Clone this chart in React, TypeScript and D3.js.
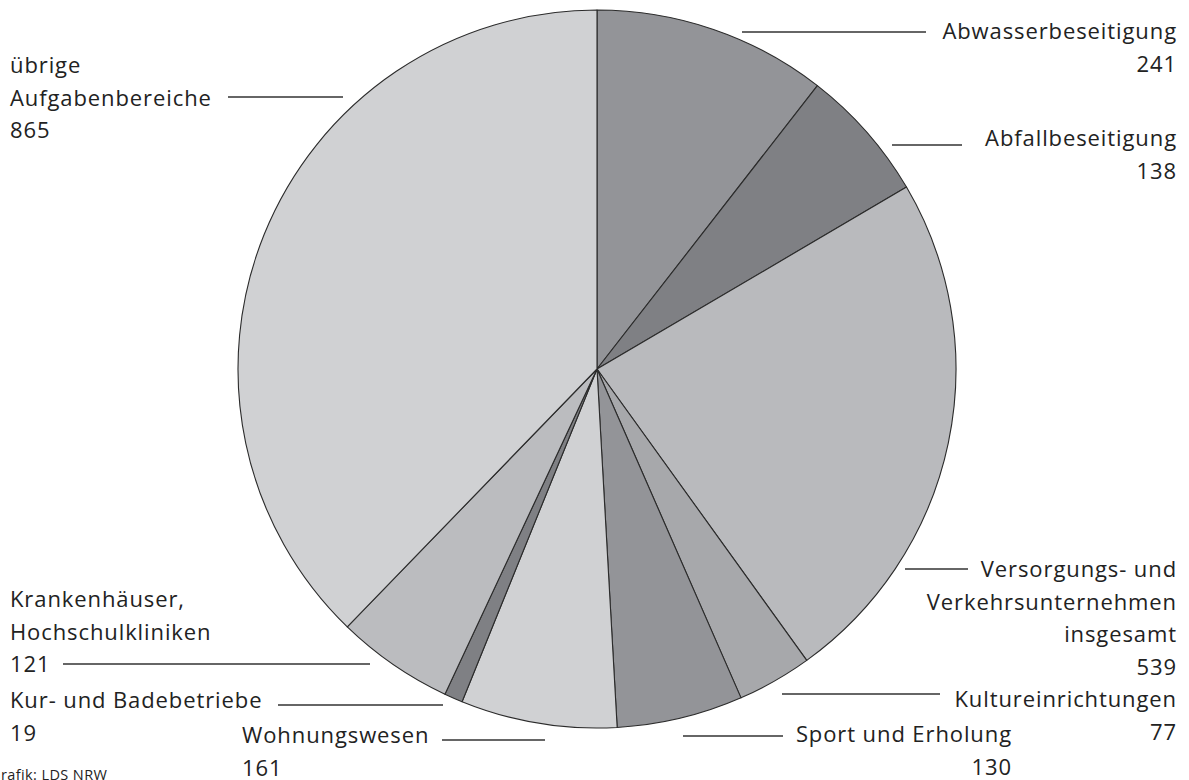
import React from "react";
import * as d3 from "d3";

const categories = [
  "Abwasserbeseitigung",
  "Abfallbeseitigung",
  "Versorgungs- und Verkehrsunternehmen insgesamt",
  "Kultureinrichtungen",
  "Sport und Erholung",
  "Wohnungswesen",
  "Kur- und Badebetriebe",
  "Krankenhäuser, Hochschulkliniken",
  "übrige Aufgabenbereiche",
];
const values = [241, 138, 539, 77, 130, 161, 19, 121, 865];
const colors = [
  "#939498",
  "#7f8084",
  "#b9babd",
  "#a7a8ab",
  "#939498",
  "#d0d1d3",
  "#7f8084",
  "#bbbcbf",
  "#d0d1d3",
];

// label layout: text lines, anchor, x, first baseline, leader line
type Lay = {
  lines: string[];
  anchor: "start" | "end";
  x: number;
  y: number;
  line: [number, number, number];
};
const layout: Lay[] = [
  { lines: ["Abwasserbeseitigung", "{v}"], anchor: "end", x: 1177, y: 39, line: [742, 926, 32] },
  { lines: ["Abfallbeseitigung", "{v}"], anchor: "end", x: 1177, y: 146, line: [892, 962, 145] },
  { lines: ["Versorgungs- und", "Verkehrsunternehmen", "insgesamt", "{v}"], anchor: "end", x: 1177, y: 577, line: [905, 968, 569] },
  { lines: ["Kultureinrichtungen", "{v}"], anchor: "end", x: 1177, y: 707, line: [782, 940, 694] },
  { lines: ["Sport und Erholung", "{v}"], anchor: "end", x: 1012, y: 742, line: [683, 783, 736] },
  { lines: ["Wohnungswesen", "{v}"], anchor: "start", x: 242, y: 743, line: [442, 545, 740] },
  { lines: ["Kur- und Badebetriebe", "{v}"], anchor: "start", x: 10, y: 708, line: [278, 443, 705] },
  { lines: ["Krankenhäuser,", "Hochschulkliniken", "{v}"], anchor: "start", x: 10, y: 607, line: [63, 370, 664] },
  { lines: ["übrige", "Aufgabenbereiche", "{v}"], anchor: "start", x: 10, y: 73, line: [228, 343, 97] },
];

const W = 1189;
const H = 780;
const cx = 597;
const cy = 369;
const R = 359;
const LH = 32.5;

export default function App() {
  const pie = d3.pie<number>().sort(null).value((d) => d)(values);
  const arc = d3.arc<d3.PieArcDatum<number>>().innerRadius(0).outerRadius(R);
  return (
    <svg
      width={W}
      height={H}
      style={{ position: "absolute", left: 0, top: 0, background: "#fff" }}
      fontFamily="'Open Sans', 'Noto Sans', sans-serif"
    >
      <g transform={`translate(${cx},${cy})`}>
        {pie.map((p, i) => (
          <path key={i} d={arc(p) || ""} fill={colors[i]} stroke="#2b2b2b" strokeWidth={1.1} strokeLinejoin="round" />
        ))}
      </g>
      {layout.map((l, i) => (
        <g key={i}>
          <line x1={l.line[0]} x2={l.line[1]} y1={l.line[2]} y2={l.line[2]} stroke="#333" strokeWidth={1.3} />
          <text textAnchor={l.anchor} fontSize={22} fill="#222" letterSpacing={0.9}>
            {l.lines.map((t, j) => (
              <tspan key={j} x={l.x} y={l.y + j * LH}>
                {t === "{v}" ? String(values[i]) : t}
              </tspan>
            ))}
          </text>
        </g>
      ))}
      <text x={-10} y={780} fontSize={14.5} fill="#222" letterSpacing={0.4}>
        Grafik: LDS NRW
      </text>
    </svg>
  );
}
